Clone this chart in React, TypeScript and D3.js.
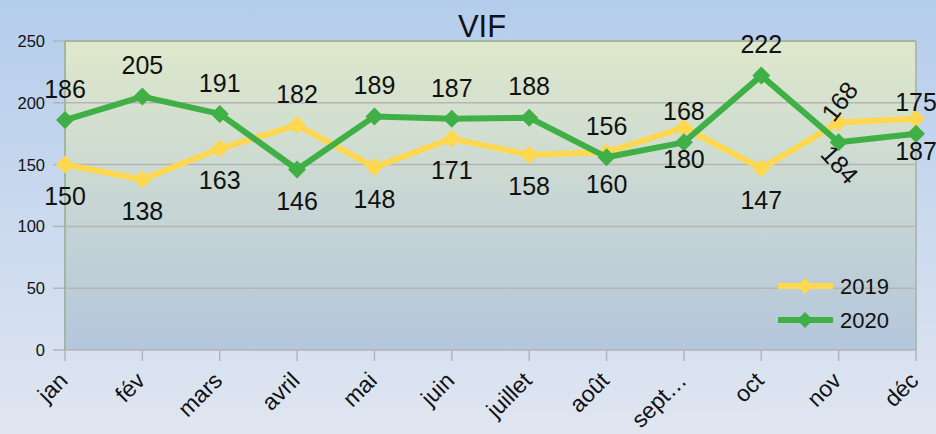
import React from "react";
import * as d3 from "d3";

const months = ["jan", "fév", "mars", "avril", "mai", "juin", "juillet", "août", "sept…", "oct", "nov", "déc"];
const values2019 = [150, 138, 163, 182, 148, 171, 158, 160, 180, 147, 184, 187];
const values2020 = [186, 205, 191, 146, 189, 187, 188, 156, 168, 222, 168, 175];
const place2019 = ["below", "below", "below", "above", "below", "below", "below", "below", "below", "below", "below-rot", "below"];
const place2020 = ["above", "above", "above", "below", "above", "above", "above", "above", "above", "above", "above-rot", "above"];
const yTicks = [0, 50, 100, 150, 200, 250];
const seriesNames = ["2019", "2020"];

const W = 936, H = 434;
const left = 65, right = 916, top = 41, bottom = 350;
const FONT = "'Liberation Sans', Arial, sans-serif";
const colors = ["#ffd84f", "#3faf46"];

export default function App() {
  const x = d3.scalePoint<string>().domain(months).range([left, right]);
  const y = d3.scaleLinear().domain([0, 250]).range([bottom, top]);
  const line = d3.line<number>().x((_, i) => x(months[i])!).y((d) => y(d));
  const series = [
    { name: seriesNames[0], values: values2019, place: place2019, color: colors[0] },
    { name: seriesNames[1], values: values2020, place: place2020, color: colors[1] },
  ];
  const diamond = (cx: number, cy: number, r: number) => `M${cx},${cy - r}L${cx + r},${cy}L${cx},${cy + r}L${cx - r},${cy}Z`;

  return (
    <svg width={W} height={H} style={{ position: "absolute", left: 0, top: 0 }} fontFamily={FONT}>
      <defs>
        <linearGradient id="bg" x1="0" y1="0" x2="0" y2="1">
          <stop offset="0" stopColor="#b4cdec" />
          <stop offset="1" stopColor="#e0e6f1" />
        </linearGradient>
        <linearGradient id="plotbg" x1="0" y1="0" x2="0" y2="1">
          <stop offset="0" stopColor="#dee8cb" />
          <stop offset="1" stopColor="#b4c6dc" />
        </linearGradient>
      </defs>
      <rect x={0} y={0} width={W} height={H} fill="url(#bg)" />
      <rect x={left} y={top} width={right - left} height={bottom - top} fill="url(#plotbg)" />
      {yTicks.map((t) => (
        <g key={t}>
          {t > 0 && t < 250 && <line x1={left} x2={right} y1={y(t)} y2={y(t)} stroke="#b5b5b5" strokeWidth={1.5} />}
          <line x1={left - 12} x2={left} y1={y(t)} y2={y(t)} stroke="#b5b5b5" strokeWidth={1.5} />
          <text x={45} y={y(t)} dy="0.36em" textAnchor="end" fontSize={16.5} fill="#111">{t}</text>
        </g>
      ))}
      <line x1={left} x2={right} y1={top} y2={top} stroke="#a3b69f" strokeWidth={2} />
      <line x1={right} x2={right} y1={top} y2={bottom} stroke="#b0b8b8" strokeWidth={2} />
      <line x1={left} x2={left} y1={top} y2={bottom} stroke="#a3b69f" strokeWidth={2} />
      <line x1={left} x2={right} y1={bottom} y2={bottom} stroke="#b5b5b5" strokeWidth={1.5} />
      {months.map((m) => (
        <g key={m}>
          <line x1={x(m)} x2={x(m)} y1={bottom} y2={bottom + 11} stroke="#b5b5b5" strokeWidth={1.5} />
          <text transform={`translate(${x(m)! + 4},${bottom + 32}) rotate(-45)`} textAnchor="end" fontSize={23} fill="#111">{m}</text>
        </g>
      ))}
      {series.map((s) => (
        <g key={s.name}>
          <path d={line(s.values)!} fill="none" stroke={s.color} strokeWidth={6} strokeLinejoin="round" />
          {s.values.map((v, i) => (
            <path key={i} d={diamond(x(months[i])!, y(v), 9)} fill={s.color} />
          ))}
        </g>
      ))}
      {series.map((s) =>
        s.values.map((v, i) => {
          const cx = x(months[i])!;
          const cy = y(v);
          const p = s.place[i];
          if (p === "above-rot" || p === "below-rot") {
            const oy = p === "above-rot" ? -41 : 42;
            const ang = p === "above-rot" ? -52 : 48;
            return (
              <text key={s.name + i} transform={`translate(${cx + 1},${cy + oy}) rotate(${ang})`} textAnchor="middle" dy="0.35em" fontSize={25} fill="#111">{v}</text>
            );
          }
          const oy = p === "above" ? -31 : 32;
          return (
            <text key={s.name + i} x={cx} y={cy + oy} dy="0.35em" textAnchor="middle" fontSize={25} fill="#111">{v}</text>
          );
        })
      )}
      {series.map((s, k) => {
        const ly = 286 + k * 34;
        return (
          <g key={"lg" + s.name}>
            <line x1={778} x2={833} y1={ly} y2={ly} stroke={s.color} strokeWidth={6} />
            <path d={diamond(805, ly, 8)} fill={s.color} />
            <text x={840} y={ly} dy="0.36em" fontSize={22} fill="#111">{s.name}</text>
          </g>
        );
      })}
      <text x={482} y={37} textAnchor="middle" fontSize={31} fill="#111">VIF</text>
    </svg>
  );
}
